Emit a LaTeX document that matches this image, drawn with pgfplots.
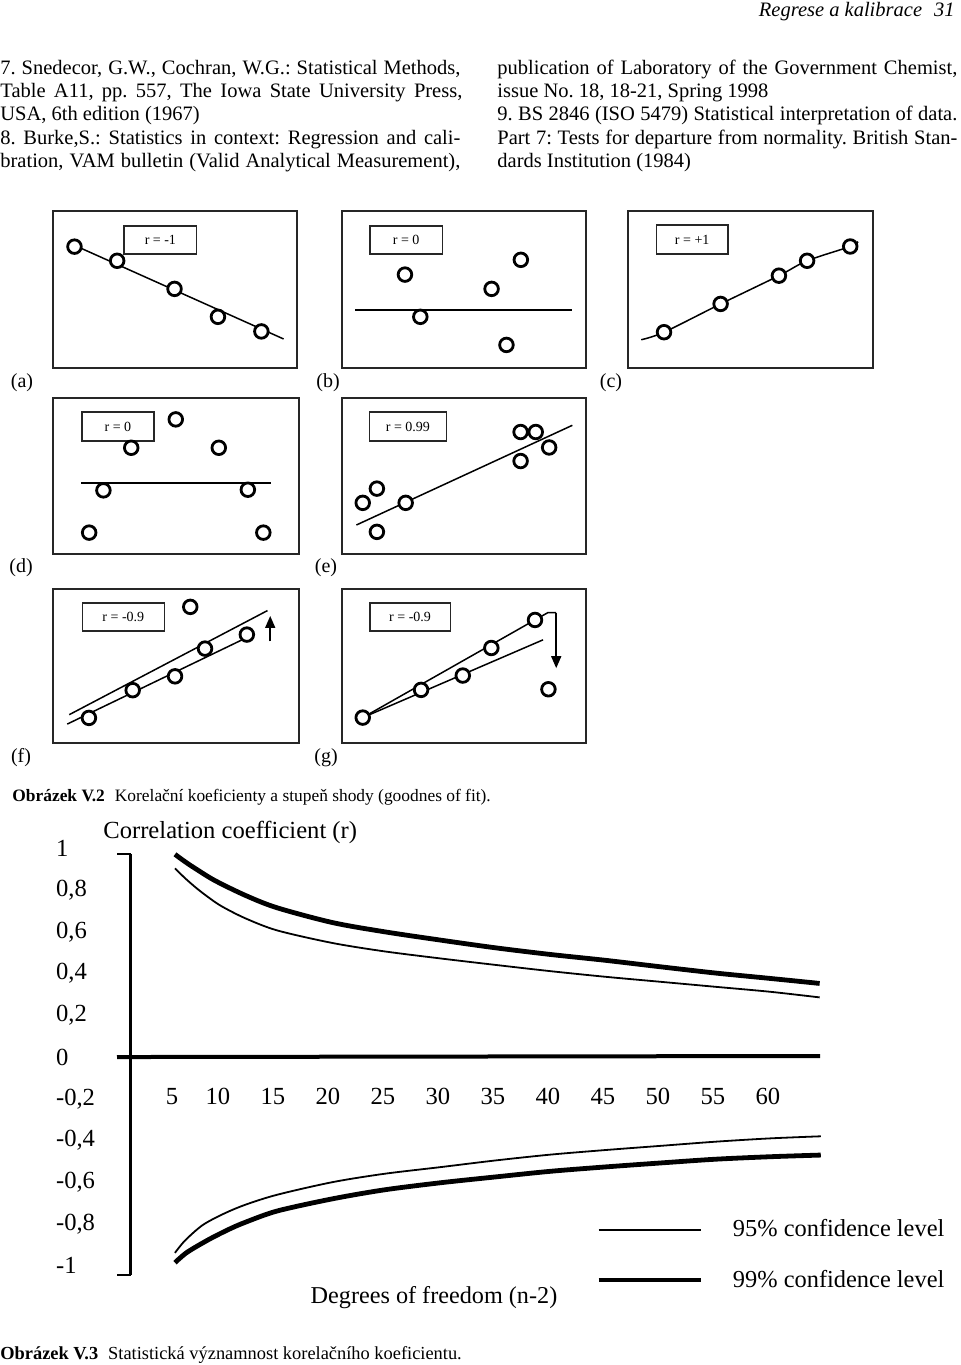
\documentclass[border=0pt]{standalone}
\usepackage{fontspec}
\setmainfont{Liberation Serif}
\usepackage{pgfplots}
\pgfplotsset{compat=1.18}
\usetikzlibrary{arrows.meta}
\frenchspacing
\newcommand{\fs}[1]{\fontsize{#1}{#1}\selectfont}
\pgfplotsset{
  panel/.style={scale only axis, xmin=0,xmax=100,ymin=0,ymax=100, ticks=none,
    axis line style={line width=1pt, black!85}, clip=false, anchor=north west},
  pts/.style={only marks, mark=*, mark size=3.4pt, mark options={fill=white, draw=black, line width=1.4pt}},
  fitl/.style={line width=0.75pt, no marks, black},
}
\tikzset{txt/.style={inner sep=0pt, anchor=base west},
  rb/.style={line width=0.8pt, black!85},
  rt/.style={font=\fs{7}, inner sep=0pt}}
\begin{document}
\begin{tikzpicture}[x=0.5pt,y=-0.5pt]
\useasboundingbox (0,0) rectangle (960,1365);
% ---------- header and references ----------
\node[txt, anchor=base east] at (955,17) {\fs{10.25}\itshape Regrese a kalibrace\hspace{6pt}31};
\node[txt] at (0,74) {\fs{10.25}\makebox[230pt][s]{7. Snedecor, G.W., Cochran, W.G.: Statistical Methods,}};
\node[txt] at (0,97) {\fs{10.25}\makebox[231pt][s]{Table A11, pp. 557, The Iowa State University Press,}};
\node[txt] at (0,120) {\fs{10.25}USA, 6th edition (1967)};
\node[txt] at (0,144) {\fs{10.25}\makebox[230pt][s]{8. Burke,S.: Statistics in context: Regression and cali-}};
\node[txt] at (0,167) {\fs{10.25}\makebox[230pt][s]{bration, VAM bulletin (Valid Analytical Measurement),}};
\node[txt] at (497,74) {\fs{10.25}\makebox[230pt][s]{publication of Laboratory of the Government Chemist,}};
\node[txt] at (497,97) {\fs{10.25}issue No. 18, 18-21, Spring 1998};
\node[txt] at (497,120) {\fs{10.25}\makebox[230pt][s]{9. BS 2846 (ISO 5479) Statistical interpretation of data.}};
\node[txt] at (497,144) {\fs{10.25}\makebox[230pt][s]{Part 7: Tests for departure from normality. British Stan-}};
\node[txt] at (497,167) {\fs{10.25}dards Institution (1984)};
% ---------- panel (a) ----------
\begin{axis}[panel, at={(26.5pt,-105.5pt)}, width=122pt, height=78.5pt]
\addplot[fitl] coordinates {(9,78) (94.5,18.5)};
\addplot[pts] coordinates {(8.8,77.3) (26.3,68.3) (49.8,50.4) (67.6,32.6) (85.4,23.3)};
\draw[rb] (axis cs:29.2,72.7) rectangle (axis cs:58.8,90.3);
\node[rt] at (axis cs:44,81.5) {r = -1};
\end{axis}
% ---------- panel (b) ----------
\begin{axis}[panel, at={(171pt,-105.5pt)}, width=122pt, height=78.5pt]
\addplot[fitl] coordinates {(5.4,37) (94.2,37)};
\addplot[pts] coordinates {(25.8,59.5) (73.3,68.9) (61.3,50.4) (32.1,32.6) (67.4,14.7)};
\draw[rb] (axis cs:11.4,72.7) rectangle (axis cs:41.2,90.3);
\node[rt] at (axis cs:26.3,81.5) {r = 0};
\end{axis}
% ---------- panel (c) ----------
\begin{axis}[panel, at={(314pt,-105.5pt)}, width=122.5pt, height=78.5pt]
\addplot[fitl, smooth] coordinates {(5.4,18) (14.7,22.8) (37.8,40.8) (61.6,58.8) (73.1,68.3) (90.7,77.4) (93.9,80.5)};
\addplot[pts] coordinates {(14.7,22.8) (37.8,40.8) (61.6,58.8) (73.1,68.3) (90.7,77.4)};
\draw[rb] (axis cs:11.6,72.5) rectangle (axis cs:40.8,90.9);
\node[rt] at (axis cs:26.2,81.7) {r = +1};
\end{axis}
% ---------- panel (d) ----------
\begin{axis}[panel, at={(26.5pt,-199pt)}, width=123pt, height=78pt]
\addplot[fitl] coordinates {(11.4,45.5) (88.7,45.5)};
\addplot[pts] coordinates {(31.8,68.1) (49.9,86.3) (67.4,68.1) (20.5,40.8) (79.2,41.2) (14.7,13.7) (85.5,13.7)};
\draw[rb] (axis cs:11.7,72.5) rectangle (axis cs:41.1,90.9);
\node[rt] at (axis cs:26.4,81.7) {r = 0};
\end{axis}
% ---------- panel (e) ----------
\begin{axis}[panel, at={(171pt,-199pt)}, width=122pt, height=78pt]
\addplot[fitl] coordinates {(5.9,18.6) (94.4,82.5)};
\addplot[pts] coordinates {(73.2,78.2) (79.4,78.2) (84.9,68.3) (73.2,59.6) (14.3,41.9) (8.5,32.8) (26.1,32.8) (14.3,14.2)};
\draw[rb] (axis cs:11.3,72.5) rectangle (axis cs:42.8,90.9);
\node[rt] at (axis cs:27,81.7) {r = 0.99};
\end{axis}
% ---------- panel (f) ----------
\begin{axis}[panel, at={(26.5pt,-294.5pt)}, width=123pt, height=77pt]
\addplot[fitl] coordinates {(6.6,18.4) (87.2,86.0)};
\addplot[fitl] coordinates {(5.8,12.3) (81.8,70.8)};
\addplot[pts] coordinates {(55.8,88.4) (78.8,70.4) (61.8,61.3) (49.6,43.3) (32.4,34.3) (14.6,16.3)};
\draw[line width=0.8pt, -{Triangle[length=6pt,width=5pt]}] (axis cs:88.3,66) -- (axis cs:88.3,82.5);
\draw[rb] (axis cs:12.0,72.9) rectangle (axis cs:45.3,90.9);
\node[rt] at (axis cs:28.6,81.9) {r = -0.9};
\end{axis}
% ---------- panel (g) ----------
\begin{axis}[panel, at={(171pt,-294.5pt)}, width=122pt, height=77pt]
\addplot[fitl] coordinates {(8.5,16.5) (84.3,84.6) (87.8,84.6)};
\addplot[fitl] coordinates {(8.5,16.5) (82.4,67.0)};
\addplot[pts] coordinates {(79.1,79.9) (61.2,61.7) (49.5,43.8) (32.4,34.5) (8.5,16.5) (84.6,34.9)};
\draw[line width=0.8pt, -{Triangle[length=6pt,width=5pt]}] (axis cs:87.8,84.6) -- (axis cs:87.8,48.6);
\draw[rb] (axis cs:11.4,72.9) rectangle (axis cs:44.4,90.9);
\node[rt] at (axis cs:27.9,81.9) {r = -0.9};
\end{axis}
% panel labels
\node[font=\fs{10}, inner sep=0pt] at (22,383) {(a)};
\node[font=\fs{10}, inner sep=0pt] at (328,383) {(b)};
\node[font=\fs{10}, inner sep=0pt] at (611,383) {(c)};
\node[font=\fs{10}, inner sep=0pt] at (21,568) {(d)};
\node[font=\fs{10}, inner sep=0pt] at (326,568) {(e)};
\node[font=\fs{10}, inner sep=0pt] at (21,758) {(f)};
\node[font=\fs{10}, inner sep=0pt] at (326,758) {(g)};
\node[inner sep=0pt, anchor=west] at (12,797) {\fs{8.7}\textbf{Obrázek V.2}\hspace{5pt}Korelační koeficienty a stupeň shody (goodnes of fit).};
% ---------- big chart ----------
\begin{axis}[at={(58.5pt,-424.25pt)}, anchor=north west,
  width=351.5pt, height=213.75pt, scale only axis,
  xmin=0.82, xmax=64.73, ymin=-1.05, ymax=1.0,
  axis line style={draw=none}, major tick length=0pt, clip=false,
  ytick={-1,-0.8,-0.6,-0.4,-0.2,0,0.2,0.4,0.6,0.8,1},
  yticklabels={{-1},{-0,8},{-0,6},{-0,4},{-0,2},{0},{0,2},{0,4},{0,6},{0,8},{1}},
  yticklabel style={anchor=west, xshift=-34pt},
  xtick={5.82,10,15,20,25,30,35,40,45,50,55,60},
  xticklabels={5,10,15,20,25,30,35,40,45,50,55,60},
  xticklabel style={anchor=base, yshift=86pt},
  tick label style={font=\fs{12.3}},
  legend style={draw=none, fill=none, at={(axis cs:43.8,-0.74)}, anchor=north west,
    font=\fs{12.2}, row sep=11pt},
  legend cell align=left,
  legend image code/.code={\draw[#1] (0pt,0pt) -- (51pt,0pt); \path (64pt,0pt);},
]
\draw[line width=1.5pt] (axis cs:2.09,0.974) -- (axis cs:2.09,-1.046);
\draw[line width=1.2pt] (axis cs:0.82,0.974) -- (axis cs:2.09,0.974);
\draw[line width=1.2pt] (axis cs:0.82,-1.046) -- (axis cs:2.09,-1.046);
\draw[line width=2pt] (axis cs:0.82,0) -- (axis cs:64.73,0.005);
\addplot[black, line width=0.9pt, smooth, no marks] coordinates {
(6.09,0.905) (7,0.858) (8,0.812) (9,0.771) (10.3,0.724) (12.5,0.665) (15.4,0.607) (20.4,0.547) (25.1,0.507) (30.2,0.473) (35.2,0.442) (40.2,0.412) (45.2,0.385) (50.2,0.361) (55.2,0.337) (60.2,0.313) (64.7,0.286)};
\addlegendentry{95\% confidence level}
\addplot[black, line width=2.4pt, smooth, no marks] coordinates {
(6.09,0.972) (7,0.937) (8,0.902) (9.73,0.846) (12.5,0.775) (15.36,0.716) (20.4,0.645) (25.1,0.601) (30.2,0.561) (35.2,0.524) (40.2,0.492) (45.2,0.464) (50.2,0.433) (55.2,0.403) (60.2,0.377) (64.7,0.353)};
\addlegendentry{99\% confidence level}
\addplot[black, line width=0.9pt, smooth, no marks, forget plot] coordinates {
(6.09,-0.939) (7,-0.88) (8.6,-0.806) (10.5,-0.752) (12.5,-0.708) (15.4,-0.660) (20.4,-0.600) (25.1,-0.560) (30.2,-0.528) (35.2,-0.496) (40.2,-0.468) (45.2,-0.446) (50.2,-0.426) (55.2,-0.406) (60.2,-0.390) (64.8,-0.380)};
\addplot[black, line width=2.4pt, smooth, no marks, forget plot] coordinates {
(6.09,-0.986) (7.2,-0.936) (9.2,-0.874) (11,-0.826) (12.5,-0.792) (15.4,-0.738) (20.4,-0.680) (25.1,-0.637) (30.2,-0.603) (35.2,-0.575) (40.2,-0.548) (45.2,-0.527) (50.2,-0.508) (55.2,-0.490) (60.2,-0.478) (64.8,-0.470)};
\end{axis}
\node[inner sep=0pt, anchor=west] at (103,832) {\fs{12.3}Correlation coefficient (r)};
\node[inner sep=0pt] at (434,1298) {\fs{12.1}Degrees of freedom (n-2)};
\node[inner sep=0pt, anchor=west] at (0,1355) {\fs{9.2}\textbf{Obrázek V.3}\hspace{5pt}Statistická významnost korelačního koeficientu.};
\end{tikzpicture}
\end{document}
